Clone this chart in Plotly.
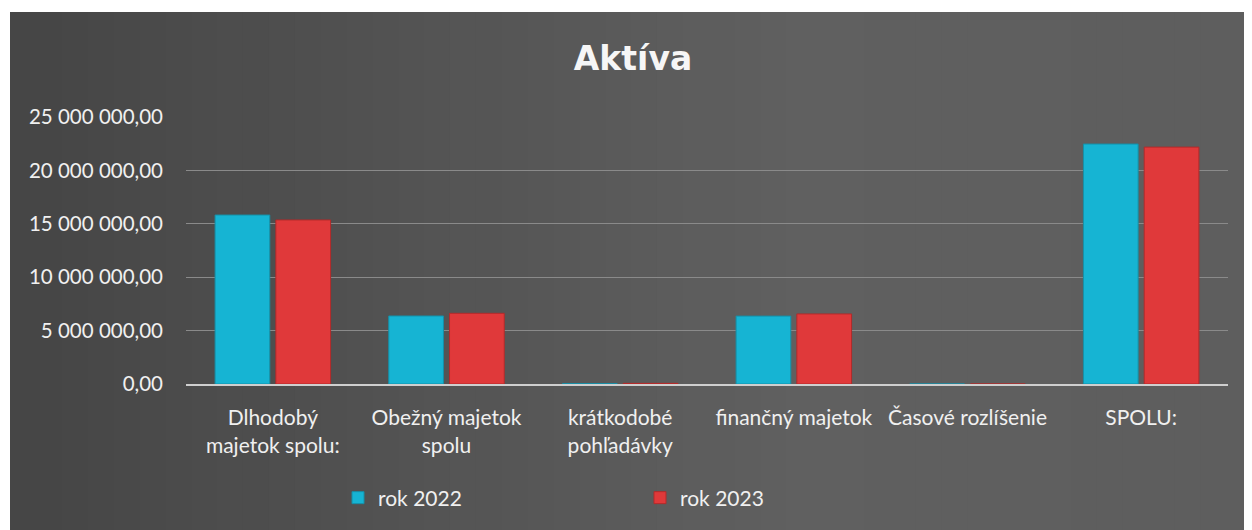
import plotly.graph_objects as go

categories = ["Dlhodobý<br>majetok spolu:", "Obežný majetok<br>spolu", "krátkodobé<br>pohľadávky",
              "finančný majetok", "Časové rozlíšenie", "SPOLU:"]
rok_2022 = [15820000, 6370000, 30000, 6360000, 0, 22470000]
rok_2023 = [15360000, 6620000, 60000, 6560000, 0, 22180000]
y_ticks = [0, 5000000, 10000000, 15000000, 20000000, 25000000]

FONT = "Lato"
OFF = 8  # page body margin
W, H = 1252 - OFF, 530 - OFF
# plot area in page coordinates: x 186..1228, y 117..384
L = 186 - OFF
T = 117 - OFF
pw, ph = 1228 - 186, 384 - 117
R = W - L - pw
B = H - T - ph

def fx(page_x):
    return (page_x - OFF - L) / pw

def fy(page_y):
    return (T + ph - (page_y - OFF)) / ph

fig = go.Figure()
fig.add_trace(go.Bar(name="rok 2022", x=categories, y=rok_2022,
                     marker=dict(color="#16b4d3", line=dict(color="#1590a8", width=1))))
fig.add_trace(go.Bar(name="rok 2023", x=categories, y=rok_2023,
                     marker=dict(color="#e0393a", line=dict(color="#b32a2a", width=1))))

# dark background with a soft horizontal gradient
shapes = []
n = 48
x0p, x1p = 10, 1252
for i in range(n):
    a = x0p + (x1p - x0p) * i / n
    b = x0p + (x1p - x0p) * (i + 1) / n + 1
    t = i / (n - 1)
    g = int(70 + 26 * min(1.0, t * 1.6) - 6 * max(0.0, t - 0.7))
    shapes.append(dict(type="rect", xref="paper", yref="paper", layer="below",
                       x0=fx(a), x1=fx(b), y0=fy(540), y1=fy(12),
                       line=dict(width=0), fillcolor=f"rgb({g},{g},{g})"))

fig.update_layout(
    width=W, height=H,
    margin=dict(l=L, r=R, t=T, b=B, autoexpand=False),
    paper_bgcolor="white", plot_bgcolor="rgba(0,0,0,0)",
    shapes=shapes,
    separators=", ",
    barmode="group", bargap=0.3, bargroupgap=0.1,
    title=dict(text="<b>Aktíva</b>", x=(633 - OFF) / W, xanchor="center",
               y=1 - (58.5 - OFF) / H, yanchor="middle",
               font=dict(family="DejaVu Sans", size=33, color="#f6f6f6")),
    font=dict(family=FONT, size=18, color="#f0f0f0"),
    legend=dict(orientation="h", x=fx(338), xanchor="left",
                y=fy(498), yanchor="middle",
                entrywidth=257, entrywidthmode="pixels",
                font=dict(family=FONT, size=21, color="#f0f0f0"),
                bgcolor="rgba(0,0,0,0)", itemwidth=30),
    showlegend=True,
)
fig.update_xaxes(showgrid=False, showline=True, linecolor="#cfcfcf", linewidth=2,
                 tickfont=dict(family=FONT, size=21, color="#f0f0f0"), ticks="",
                 ticklabelstandoff=14)
fig.update_yaxes(range=[0, 25000000], tickvals=y_ticks, tickformat=",.2f",
                 showgrid=True, gridcolor="#8a8a8a", gridwidth=1, zeroline=False,
                 showline=False, ticklabelstandoff=22,
                 tickfont=dict(family=FONT, size=20.5, color="#f0f0f0"))

fig.write_html("out.html")
